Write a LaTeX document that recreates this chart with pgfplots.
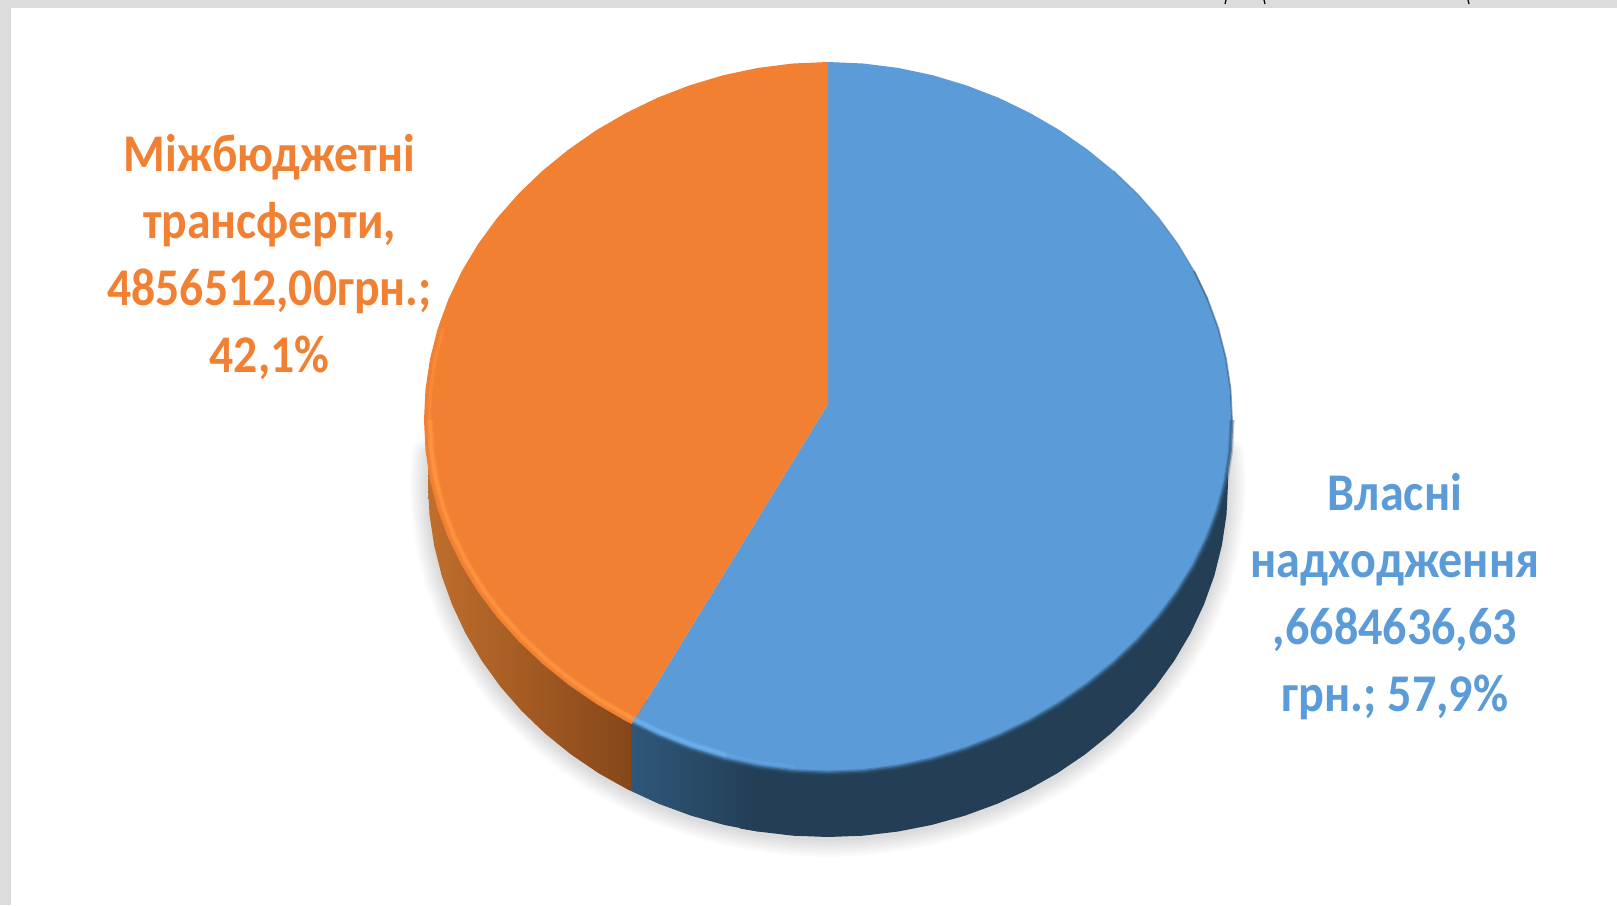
\documentclass[border=0pt]{standalone}
\usepackage{pgfplots}
\usepackage{pgfplotstable}
\usepackage{fontspec}
\setmainfont{Carlito}
\pgfplotsset{compat=1.18}

\definecolor{blueface}{HTML}{5B9BD7}
\definecolor{orangeface}{HTML}{F28032}
\definecolor{bluedark}{HTML}{233E55}
\definecolor{bluemid}{HTML}{2F5779}
\definecolor{orangeleft}{HTML}{C06E2C}
\definecolor{orangeright}{HTML}{85471A}
\definecolor{bandgrey}{HTML}{DCDCDC}
\definecolor{orangelight}{HTML}{FF9642}
\definecolor{bluelight}{HTML}{6CB0EE}

% picture pixels, y downwards; slices 42.1% and 57.9%
\pgfplotstableread{
x y
828 404
828 62
863.2 63.5
898.1 67.9
932.6 75.2
966.2 85.3
998.7 97.8
1030 113
1059.7 130.2
1087.7 149.7
1113.7 170.9
1137.5 193.8
1159 218.2
1177.9 244
1194.1 271
1207.6 299.3
1218.2 328.3
1225.9 358.4
1230.5 388.9
1232 420
1230.5 450.6
1225.9 480.6
1218.2 509.9
1207.6 538.2
1194.1 565.7
1177.9 592
1159 617.2
1137.5 641.1
1113.7 663.6
1087.7 684.6
1059.7 703.9
1030 721.2
998.7 736.4
966.2 749.2
932.6 759.5
898.1 766.9
863.2 771.5
828 773
792.8 771.5
757.9 766.9
723.4 759.5
689.8 749.2
657.3 736.4
632 724
}\blueslice

\pgfplotstableread{
x y
828 404
632 724
626 721.2
596.3 703.9
568.3 684.6
542.3 663.6
518.5 641.1
497 617.2
478.1 592
461.9 565.7
448.4 538.2
437.8 509.9
430.1 480.6
425.5 450.6
424 420
425.5 388.9
430.1 358.4
437.8 328.3
448.4 299.3
461.9 271
478.1 244
497 218.2
518.5 193.8
542.3 170.9
568.3 149.7
596.3 130.2
626 113
657.3 97.8
689.8 85.3
723.4 75.2
757.9 67.9
792.8 63.5
828 62
}\orangeslice

\pgfplotstableread{
x y
631 791
628 789.7
598.6 773.2
570.9 754.4
545.2 733.6
521.6 710.9
500.3 686.5
481.6 660.5
465.5 633.2
452.1 604.7
441.6 575.4
434.1 545.3
429.5 514.8
428 484
429.5 453.2
631 420
}\orangeside

\pgfplotstableread{
x y
631 791
659 803.9
691.2 815.7
724.5 825
758.5 831.6
758.5 700
631 700
}\bluesidea

\pgfplotstableread{
x y
740 828.5
758.5 831.6
793.1 835.7
828 837
862.9 835.7
897.5 831.6
931.5 825
964.8 815.7
997 803.9
1028 789.7
1057.4 773.2
1085.1 754.4
1110.8 733.6
1134.4 710.9
1155.7 686.5
1174.4 660.5
1190.5 633.2
1203.9 604.7
1214.4 575.4
1221.9 545.3
1226.5 514.8
1228 484
1226.5 453.2
828 420
740 700
}\bluesideb

% outer rim, for the soft shadow
\pgfplotstableread{
x y
1226.5 453.2
1228 484
1226.5 514.8
1221.9 545.3
1214.4 575.4
1203.9 604.7
1190.5 633.2
1174.4 660.5
1155.7 686.5
1134.4 710.9
1110.8 733.6
1085.1 754.4
1057.4 773.2
1028 789.7
997 803.9
964.8 815.7
931.5 825
897.5 831.6
862.9 835.7
828 837
793.1 835.7
758.5 831.6
724.5 825
691.2 815.7
659 803.9
628 789.7
598.6 773.2
570.9 754.4
545.2 733.6
521.6 710.9
500.3 686.5
481.6 660.5
465.5 633.2
452.1 604.7
441.6 575.4
434.1 545.3
429.5 514.8
428 484
429.5 453.2
}\shadowrim

% bevel lines on the top face
\pgfplotstableread{
x y
632 724
626 721.2
596.3 703.9
568.3 684.6
542.3 663.6
518.5 641.1
497 617.2
478.1 592
461.9 565.7
448.4 538.2
437.8 509.9
430.1 480.6
425.5 450.6
424 420
}\orangebevel

\pgfplotstableread{
x y
430.1 480.6
425.5 450.6
424 420
425.5 388.9
430.1 358.4
437.8 328.3
}\orangebeveltop

\pgfplotstableread{
x y
632 724
657.3 736.4
689.8 749.2
723.4 759.5
}\bluebevel

\pgfplotstableread{
x y
689.8 749.2
723.4 759.5
757.9 766.9
792.8 771.5
}\bluebevelend

\pgfplotstableread{
x y
632 724
657.3 736.4
689.8 749.2
723.4 759.5
757.9 766.9
792.8 771.5
828 773
863.2 771.5
898.1 766.9
932.6 759.5
966.2 749.2
998.7 736.4
1030 721.2
1059.7 703.9
1087.7 684.6
1113.7 663.6
1137.5 641.1
1159 617.2
1177.9 592
1194.1 565.7
1207.6 538.2
1218.2 509.9
1225.9 480.6
1230.5 450.6
1232 420
}\blueedge

\pgfplotstableread{
x y
1232 420
1230.5 388.9
1225.9 358.4
1218.2 328.3
1207.6 299.3
1194.1 271
}\blueedgeup

\pgfplotstableread{
x y
1207.6 299.3
1194.1 271
1177.9 244
1159 218.2
1137.5 193.8
1113.7 170.9
}\blueedgetop

\begin{document}
\begin{tikzpicture}
\begin{axis}[
    scale only axis,
    width=808.5pt,
    height=452.5pt,
    xmin=0, xmax=1617,
    ymin=0, ymax=905,
    y dir=reverse,
    hide axis,
]
% sheet and the grey window band
\addplot[fill=bandgrey, draw=none] coordinates {(0,0) (1617,0) (1617,905) (0,905)};
\addplot[fill=white, draw=none] coordinates {(11,8) (1617,8) (1617,905) (11,905)};
\addplot[black, line width=0.6pt] coordinates {(1226,0) (1225,4)};
\addplot[black, line width=0.6pt] coordinates {(1264,0) (1265,4)};
\addplot[black, line width=0.6pt] coordinates {(1468,0) (1469,4)};

% shadow
\pgfplotsinvokeforeach{18,16,14,12,10,8,6,4,2}{
\addplot[black, opacity=0.014, line width=#1pt, line cap=round, line join=round] table[y expr=\thisrow{y}+2] {\shadowrim};
}

% sides
\addplot[left color=orangeleft, right color=orangeright, draw=none] table {\orangeside};
\addplot[fill=bluedark, draw=none] table {\bluesideb};
\addplot[left color=bluemid, right color=bluedark, draw=none] table {\bluesidea};

% top faces
\addplot[fill=blueface, draw=none] table {\blueslice};
\addplot[fill=orangeface, draw=none] table {\orangeslice};

% bevel
\addplot[color=bluemid, opacity=0.6, line width=1.4pt] table {\blueedge};
\addplot[color=bluemid, opacity=0.3, line width=2.6pt] table {\blueedge};
\addplot[color=bluemid, opacity=0.55, line width=0.9pt] table {\blueedgeup};
\addplot[color=bluemid, opacity=0.3, line width=0.7pt] table {\blueedgetop};
\addplot[color=orangelight, opacity=0.35, line width=3.2pt] table[x expr=828+(\thisrow{x}-828)*0.985, y expr=420+(\thisrow{y}-420)*0.985] {\orangebevel};
\addplot[color=orangelight, opacity=0.8, line width=1.5pt] table[x expr=828+(\thisrow{x}-828)*0.985, y expr=420+(\thisrow{y}-420)*0.985] {\orangebevel};
\addplot[color=orangelight, opacity=0.45, line width=1.6pt, line cap=round] table[x expr=828+(\thisrow{x}-828)*0.987, y expr=420+(\thisrow{y}-420)*0.987] {\orangebeveltop};
\addplot[color=bluelight, opacity=0.4, line width=3pt, line cap=round] table[x expr=828+(\thisrow{x}-828)*0.985, y expr=420+(\thisrow{y}-420)*0.985] {\bluebevel};
\addplot[color=bluelight, opacity=0.8, line width=1.4pt, line cap=round] table[x expr=828+(\thisrow{x}-828)*0.985, y expr=420+(\thisrow{y}-420)*0.985] {\bluebevel};
\addplot[color=bluelight, opacity=0.35, line width=1.2pt, line cap=round] table[x expr=828+(\thisrow{x}-828)*0.985, y expr=420+(\thisrow{y}-420)*0.985] {\bluebevelend};

% labels
\node[text=orangeface, align=center, anchor=center, transform shape, xscale=0.9, font={\fontsize{26.5}{33.5}\selectfont\bfseries}]
    at (axis cs:269.5,256.5) {Міжбюджетні\\трансферти,\\4856512,00грн.;\\42,1\%};
\node[text=blueface, align=center, anchor=center, transform shape, xscale=0.907, font={\fontsize{26.5}{33.5}\selectfont\bfseries}]
    at (axis cs:1395,597) {Власні\\надходження\\,6684636,63\\грн.; 57,9\%};
\end{axis}
\end{tikzpicture}
\end{document}
